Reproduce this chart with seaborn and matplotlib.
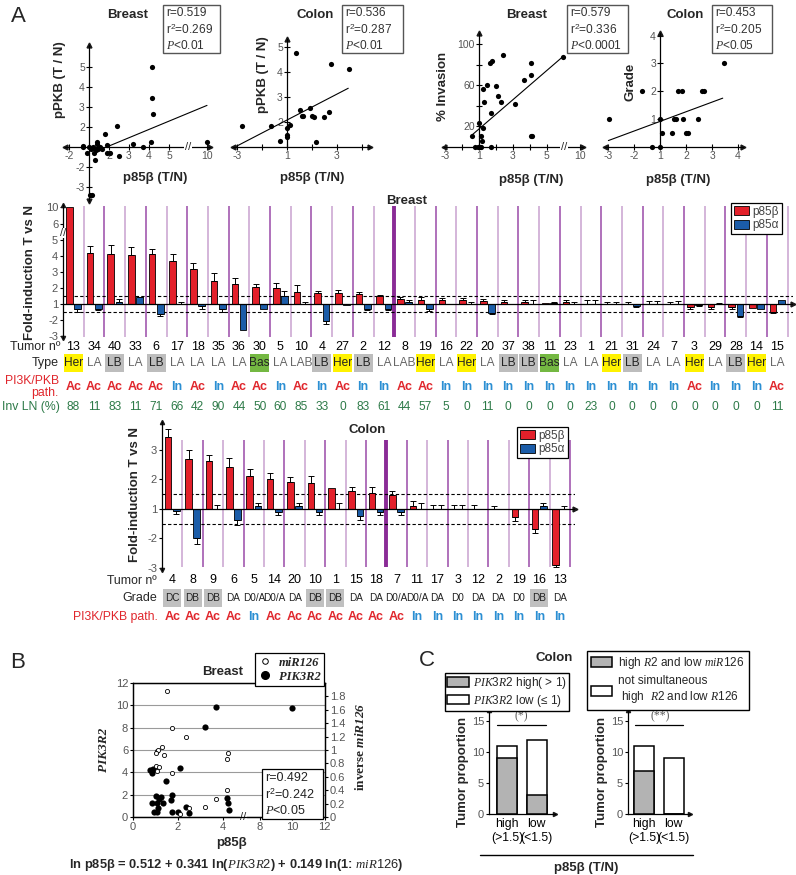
import numpy as np
import pandas as pd
import matplotlib
matplotlib.use("Agg")
import matplotlib.pyplot as plt
from matplotlib.patches import Rectangle
from matplotlib.lines import Line2D
import matplotlib.transforms as mtransforms
import seaborn as sns

# ======================= DATA =======================
# --- Panel A, top scatter plots (fold-change values T/N) ---
bpkb_x = [4.13, 4.13, 4.2, 2.38, 1.82, 1.38, -1.28, 1.0, 1.22, 1.42, 1.55, 1.88, 3.2, 3.7, 4.1, 10,
          -1.32, 1.1, 1.2, 1.35, 1.45, 1.63, 1.88, -1.08, 1.25, 1.3, 2.05, 2.52, 1.05, 1.15]
bpkb_y = [5.0, 3.47, 2.65, 2.05, 1.65, 1.15, 1.07, 1.0, 1.0, 1.25, 1.0, 1.1, 1.15, 1.0, 1.27, 1.27,
          1.0, -1.1, -1.05, -1.15, -1.1, -1.12, -1.28, -1.28, -1.32, -1.65, -1.32, -1.43, -3.4, -3.4]
bpkb_fit_x = [1.88, 10]
bpkb_fit_y = [1.0, 3.08]

cpkb_x = [1.36, 2.76, 3.49, -2.81, -1.65, -1.28, 1.0, 1.0, 1.0, 1.1, 1.52, 1.59, 1.65, 1.92, 1.99,
          2.08, 2.16, 2.49, 2.69]
cpkb_y = [4.75, 4.32, 4.12, 1.85, 1.85, 1.24, 1.4, 1.5, 1.75, 1.9, 2.48, 2.24, 2.24, 2.55, 2.25,
          2.21, 1.21, 2.21, 2.41]
cpkb_fit_x = [-3.08, 3.45]
cpkb_fit_y = [1.0, 3.35]

binv_x = [-1.41, 1.0, 1.14, 1.2, 1.25, 1.31, 1.27, 1.47, 1.63, 1.78, 1.7, 1.7, 2.02, 2.1, 2.29,
          2.41, 3.14, 3.63, 4.08, 4.08, 4.08, 4.15, 7.5, -1.2, -1.08, 1.04, 1.14]
binv_y = [10.7, 23, 11, 6, 18, 44, 56, 60.5, 82, 84, 33, 0, 59.5, 50, 44,
          90, 42, 65, 82, 70, 11, 11, 88, 0, 0, 0, 0]
binv_fit_x = [-1.35, 7.47]
binv_fit_y = [12.4, 88]

cgr_x = [-2.95, -1.68, 1.0, 1.06, 1.45, 1.54, 1.62, 1.68, 1.83, 1.9, 1.99, 2.09, 2.45, 2.6, 2.69,
         3.44, -1.3, 1.0]
cgr_y = [1, 2, 1, 0.5, 0.5, 1, 1, 2, 2, 1, 0.5, 0.5, 1, 2, 2, 3, 0, 0]
cgr_fit_x = [-2.99, 3.41]
cgr_fit_y = [0.22, 1.75]

stats_pkb_breast = ["r=0.519", "r$^{2}$=0.269", "$P$<0.01"]
stats_pkb_colon = ["r=0.536", "r$^{2}$=0.287", "$P$<0.01"]
stats_inv_breast = ["r=0.579", "r$^{2}$=0.336", "$P$<0.0001"]
stats_grade_colon = ["r=0.453", "r$^{2}$=0.205", "$P$<0.05"]

# --- Panel A, breast fold-induction bars ---
breast_tumors = ['13', '34', '40', '33', '6', '17', '18', '35', '36', '30', '5', '10', '4', '27', '2', '12',
                 '8', '19', '16', '22', '20', '37', '38', '11', '23', '1', '21', '31', '24', '7', '3', '29',
                 '28', '14', '15']
breast_p85b = [10, 4.23, 4.16, 4.1, 4.15, 3.69, 3.19, 2.46, 2.29, 2.08, 2.03, 1.8, 1.71, 1.71, 1.67, 1.5,
               1.32, 1.26, 1.26, 1.26, 1.2, 1.15, 1.15, 1.08, 1.15, 1.0, 1.0, 1.0, 1.0, 1.0, -1.17, -1.17,
               -1.17, -1.2, -1.47]
breast_p85b_err = [0, 0.39, 0.54, 0.45, 0.28, 0.47, 0.39, 0.52, 0.37, 0.22, 0.3, 0.39, 0.1, 0.2, 0.1, 0.09,
                   0.15, 0.2, 0.13, 0.13, 0.15, 0.1, 0.1, 0, 0.1, 0.26, 0.15, 0.15, 0.2, 0.15, 0.1, 0.1,
                   0.15, 0, 0.07]
breast_p85a = [-1.28, -1.28, 1.15, 1.43, -1.6, 1.0, -1.1, -1.28, -2.61, -1.32, 1.54, 1.0, -2.03, -1.06,
               -1.28, -1.3, 1.15, -1.28, 1.03, 1.0, -1.54, 1.0, 1.0, 1.08, 1.0, 1.0, 1.0, -1.1, 1.0, 1.0,
               -1.03, 1.0, -1.7, -1.28, 1.26]
breast_p85a_err = [0.2, 0.05, 0.17, 0.05, 0.15, 0.15, 0.17, 0.2, 0, 0, 0.32, 0.15, 0.2, 0, 0.1, 0.05,
                   0.1, 0.15, 0, 0.15, 0.06, 0, 0.25, 0.06, 0.15, 0.26, 0.15, 0.05, 0.2, 0.2, 0.05, 0.08,
                   0.1, 0, 0]
breast_type = ['Her', 'LA', 'LB', 'LA', 'LB', 'LA', 'LA', 'LA', 'LA', 'Bas', 'LA', 'LAB', 'LB', 'Her', 'LB',
               'LA', 'LAB', 'Her', 'LA', 'Her', 'LA', 'LB', 'LB', 'Bas', 'LA', 'LA', 'Her', 'LB', 'LA', 'LA',
               'Her', 'LA', 'LB', 'Her', 'LA']
breast_path = ['Ac', 'Ac', 'Ac', 'Ac', 'Ac', 'In', 'Ac', 'In', 'Ac', 'Ac', 'In', 'Ac', 'In', 'Ac', 'In', 'In',
               'Ac', 'Ac', 'In', 'In', 'In', 'In', 'In', 'In', 'In', 'In', 'In', 'In', 'In', 'In', 'Ac', 'In',
               'In', 'In', 'Ac']
breast_invln = ['88', '11', '83', '11', '71', '66', '42', '90', '44', '50', '60', '85', '33', '0', '83', '61',
                '44', '57', '5', '0', '11', '0', '0', '0', '0', '23', '0', '0', '0', '0', '0', '0', '0', '0',
                '11']

# --- Panel A, colon fold-induction bars ---
colon_tumors = ['4', '8', '9', '6', '5', '14', '20', '10', '1', '15', '18', '7', '11', '17', '3', '12', '2',
                '19', '16', '13']
colon_p85b = [3.42, 2.69, 2.61, 2.42, 2.09, 2.0, 1.89, 1.87, 1.7, 1.6, 1.52, 1.48, 1.09, 1.0, 1.0, 1.0, 1.0,
              -1.28, -1.67, -2.89]
colon_p85b_err = [0.27, 0.31, 0.2, 0.28, 0.27, 0.2, 0.19, 0.22, 0, 0.12, 0.2, 0.11, 0.16, 0.14, 0.13, 0.14,
                  0.09, 0.14, 0.14, 0.09]
colon_p85a = [-1.06, -2.0, 1.0, -1.39, 1.11, -1.11, 1.1, -1.11, 1.0, -1.26, -1.11, -1.11, 1.0, 1.0, 1.0, 1.0,
              1.0, 1.0, 1.11, 1.0]
colon_p85a_err = [0.11, 0.2, 0.13, 0.17, 0.08, 0.09, 0.09, 0.11, 0.2, 0.11, 0.11, 0.11, 0.19, 0.14, 0.13, 0,
                  0, 0, 0.1, 0.11]
colon_grade = ['DC', 'DB', 'DB', 'DA', 'D0/A', 'D0/A', 'DA', 'DB', 'DB', 'DA', 'DA', 'D0/A', 'D0/A', 'DA',
               'D0', 'DA', 'DA', 'D0', 'DB', 'DA']
colon_path = ['Ac', 'Ac', 'Ac', 'Ac', 'In', 'Ac', 'Ac', 'Ac', 'Ac', 'Ac', 'Ac', 'Ac', 'In', 'In', 'In', 'In',
              'In', 'In', 'In', 'In']

# --- Panel B ---
pik_x = [0.83, 0.93, 1.02, 1.12, 1.17, 1.07, 1.23, 1.35, 1.08, 0.76, 0.83, 0.9, 1.47, 1.67, 1.75, 1.72,
         2.09, 2.01, 2.34, 2.49, 4.19, 4.24, 4.28, 3.69, 3.2, 10]
pik_y = [1.28, 0.47, 1.88, 0.78, 1.58, 1.28, 1.82, 1.28, 0.47, 4.2, 3.9, 4.27, 3.25, 1.52, 1.97, 0.47,
         4.36, 0.47, 0.92, 0.38, 1.67, 1.22, 0.63, 9.82, 8.03, 9.8]
mir_x = [1.5, 1.75, 2.36, 1.05, 1.27, 1.38, 1.12, 1.02, 1.02, 1.17, 1.05, 1.72, 4.24, 4.19, 4.16, 3.69,
         3.2, 2.5, 2.09]
mir_y = [1.88, 1.33, 1.2, 0.98, 1.04, 0.93, 1.0, 0.95, 0.76, 0.74, 0.68, 0.66, 0.96, 0.86, 0.41, 0.27,
         0.15, 0.13, 0.05]
stats_B = ["r=0.492", "r$^{2}$=0.242", "$P$<0.05"]

# --- Panel C ---
c_groups = ['high\n(>1.5)', 'low\n(<1.5)']
c1_total = [11, 12]
c1_high = [9, 3]
c2_total = [11, 9]
c2_high = [7, 0]

# ======================= STYLE =======================
sns.set_theme(style="ticks")
plt.rcParams['font.family'] = ['Liberation Sans', 'DejaVu Sans']
plt.rcParams.update({
    'mathtext.fontset': 'custom',
    'mathtext.rm': 'Liberation Sans',
    'mathtext.it': 'Liberation Serif:italic',
    'mathtext.bf': 'Liberation Serif:italic:bold',
    'axes.edgecolor': 'black',
    'axes.linewidth': 0.9,
    'xtick.color': 'black', 'ytick.color': 'black',
    'xtick.labelcolor': '#555555', 'ytick.labelcolor': '#555555',
})

RED = '#e3202a'
BLUE = '#1b5ca8'
AC_RED = '#e0262c'
IN_BLUE = '#2b8fd3'
GREEN_TXT = '#2d7a48'
LIGHT_V = '#c9a2d0'
DARK_V = '#9a4aa8'
THICK_V = '#8a2b96'
TYPE_BG = {'Her': '#fff200', 'LB': '#bdbdbd', 'Bas': '#74b842'}

W, H = 796, 875
fig = plt.figure(figsize=(W / 100, H / 100), dpi=100)
fig.patch.set_facecolor('white')


def fx(px):
    return px / W


def fy(py):
    return 1 - py / H


def ax_px(l, t, r, b):
    return fig.add_axes([fx(l), fy(b), (r - l) / W, (b - t) / H])


def ftext(px, py, s, **kw):
    kw.setdefault('ha', 'center')
    kw.setdefault('va', 'center')
    return fig.text(fx(px), fy(py), s, **kw)


def fbox(l, t, r, b, ec='black', lw=0.9, fc='white', z=10):
    fig.add_artist(Rectangle((fx(l), fy(b)), (r - l) / W, (b - t) / H, transform=fig.transFigure,
                             facecolor=fc, edgecolor=ec, lw=lw, zorder=z))


def fline(x0, y0, x1, y1, **kw):
    fig.add_artist(Line2D([fx(x0), fx(x1)], [fy(y0), fy(y1)], transform=fig.transFigure, **kw))


def sfold(v):
    v = np.asarray(v, float)
    return np.where(v >= 1, v - 1, np.where(v <= -1, v + 1, 0.0))


def sfold_xbreak(v):
    v = np.asarray(v, float)
    return np.where(v > 5, 4 + (v - 5) * 0.38, sfold(v))


def sfold_ybreak(v):
    v = np.asarray(v, float)
    return np.where(v > 6, 5 + (v - 6) * 0.275, sfold(v))


def xb(v):
    v = np.asarray(v, float)
    return np.where(v >= 8, 5.64 + (v - 8) * 0.72, v)


# ======================= PANEL A: scatter plots =======================
def cross_panel(ax, xlim, ylim, xt, xtl, yt, ytl, ylow, arrow_down=False):
    ax.set_xlim(xlim)
    ax.set_ylim(ylim)
    for s in ('top', 'right'):
        ax.spines[s].set_visible(False)
    ax.spines['left'].set_position(('data', 0))
    ax.spines['bottom'].set_position(('data', 0))
    ax.spines['left'].set_bounds(ylow, ylim[1])
    ax.set_xticks(xt, xtl)
    ax.set_yticks(yt, ytl)
    ax.tick_params(direction='inout', length=4, width=0.8, labelsize=7.5, pad=1)
    ax.set_xlabel('')
    ax.set_ylabel('')
    ax.plot(1, 0, '>', color='k', ms=3.5, transform=ax.get_yaxis_transform(), clip_on=False)
    ax.plot(0, 0, '<', color='k', ms=3.5, transform=ax.get_yaxis_transform(), clip_on=False)
    ax.plot(0, 1, '^', color='k', ms=3.5, transform=ax.get_xaxis_transform(), clip_on=False)
    if arrow_down:
        ax.plot(0, 0, 'v', color='k', ms=3.5, transform=ax.get_xaxis_transform(), clip_on=False)
    ax.patch.set_alpha(0)


def stats_box(l, t, r, b, lines):
    fbox(l, t, r, b, ec='#555555', lw=1.0, fc='white', z=5)
    step = (b - t) / 3.0
    for i, s in enumerate(lines):
        ftext(l + 3, t + step * (i + 0.5) + 0.5, s, ha='left', fontsize=8.6, color='#333333', zorder=6)


dot_kw = dict(color='black', s=14, linewidth=0, zorder=4, legend=False)

# 1. breast pPKB
a1 = ax_px(65, 45, 210, 201)
sns.scatterplot(x=sfold_xbreak(bpkb_x), y=sfold(bpkb_y), ax=a1, **dot_kw)
sns.lineplot(x=sfold_xbreak(bpkb_fit_x), y=sfold(bpkb_fit_y), ax=a1, color='black', lw=0.8)
cross_panel(a1, (-1.2, 6.05), (-2.7, 5.1), [-1, 0, 1, 2, 3, 4, 5.9], ['-2', '', '2', '3', '4', '5', '10'],
            [-2, -1, 1, 2, 3, 4], ['-3', '-2', '2', '3', '4', '5'], -2.7, arrow_down=True)
a1.text(4.95, 0, '//', ha='center', va='center', fontsize=8,
        bbox=dict(fc='white', ec='none', pad=0.3), zorder=5)

# 2. colon pPKB
a2 = ax_px(233, 39, 370, 150)
sns.scatterplot(x=sfold(cpkb_x), y=sfold(cpkb_y), ax=a2, **dot_kw)
sns.lineplot(x=sfold(cpkb_fit_x), y=sfold(cpkb_fit_y), ax=a2, color='black', lw=0.8)
cross_panel(a2, (-2.16, 3.32), (-0.12, 4.32), [-2, -1, 0, 1, 2, 3], ['-3', '', '1', '', '3', ''],
            [1, 2, 3, 4], ['2', '3', '4', '5'], 0)

# 3. breast % invasion
a3 = ax_px(444, 33, 583, 150)
sns.scatterplot(x=sfold_xbreak(binv_x), y=binv_y, ax=a3, **dot_kw)
sns.lineplot(x=sfold_xbreak(binv_fit_x), y=binv_fit_y, ax=a3, color='black', lw=0.8)
cross_panel(a3, (-2.05, 6.12), (-3, 111), [-2, -1, 0, 1, 2, 3, 4, 5.94],
            ['-3', '', '1', '', '3', '', '5', '10'], [20, 40, 60, 80, 100], ['20', '', '60', '', '100'], 0)
a3.text(5.0, 0, '//', ha='center', va='center', fontsize=8,
        bbox=dict(fc='white', ec='none', pad=0.3), zorder=5)

# 4. colon grade
a4 = ax_px(605, 33, 743, 150)
sns.scatterplot(x=sfold(cgr_x), y=cgr_y, ax=a4, **dot_kw)
sns.lineplot(x=sfold(cgr_fit_x), y=cgr_fit_y, ax=a4, color='black', lw=0.8)
cross_panel(a4, (-2.12, 3.19), (-0.12, 4.1), [-2, -1, 0, 1, 2, 3], ['-3', '-2', '1', '2', '3', '4'],
            [1, 2, 3, 4], ['1', '2', '3', '4'], 0)

ftext(18, 17, 'A', fontsize=16)
for x, t in ((128, 'Breast'), (315, 'Colon'), (527, 'Breast'), (685, 'Colon')):
    ftext(x, 15, t, fontsize=9.5, fontweight='bold')
stats_box(163, 5, 220, 53, stats_pkb_breast)
stats_box(342, 5, 403, 53, stats_pkb_colon)
stats_box(567, 5, 628, 53, stats_inv_breast)
stats_box(712, 5, 772, 53, stats_grade_colon)
ftext(60, 80, 'pPKB (T / N)', rotation=90, fontsize=9.5, fontweight='bold')
ftext(263, 75, 'pPKB (T / N)', rotation=90, fontsize=9.5, fontweight='bold')
ftext(443, 86, '% Invasion', rotation=90, fontsize=9.5, fontweight='bold')
ftext(630, 82, 'Grade', rotation=90, fontsize=9.5, fontweight='bold')
for x, y in ((155, 178), (312, 178), (531, 180), (678, 180)):
    ftext(x, y, 'p85β (T/N)', fontsize=9.5, fontweight='bold')


# ======================= PANEL A: fold-induction bars =======================
def fold_panel(ax, tumors, beta, beta_err, alpha, alpha_err, yfun, ylim, thick_after, vspan):
    n = len(tumors)
    df = pd.DataFrame({'tumor': tumors * 2,
                       'gene': ['p85β'] * n + ['p85α'] * n,
                       'val': np.concatenate([yfun(beta), yfun(alpha)])})
    sns.barplot(data=df, x='tumor', y='val', hue='gene', order=tumors, hue_order=['p85β', 'p85α'],
                palette={'p85β': RED, 'p85α': BLUE}, width=0.8, gap=0.2, errorbar=None,
                edgecolor='black', linewidth=0.6, saturation=1, legend=False, ax=ax, zorder=3)
    for vals, errs, off in ((beta, beta_err, -0.2), (alpha, alpha_err, 0.2)):
        y = yfun(vals)
        e = np.asarray(errs, float)
        m = e > 0
        up = np.where(y >= 0, e, 0)
        lo = np.where(y < 0, e, 0)
        ax.errorbar((np.arange(n) + off)[m], y[m], yerr=[lo[m], up[m]], fmt='none', ecolor='black',
                    elinewidth=0.7, capsize=2, capthick=0.7, zorder=4)
    xs = np.arange(n) + 0.5
    cols = [LIGHT_V if i % 2 == 0 else DARK_V for i in range(n)]
    ax.vlines(xs, vspan[0], vspan[1], colors=cols, lw=1.1, zorder=1)
    ax.vlines(thick_after + 0.5, vspan[0], vspan[1], colors=THICK_V, lw=2.8, zorder=1)
    ax.axhline(0, color='black', lw=0.9, zorder=5)
    for yv in (0.5, -0.5):
        ax.axhline(yv, color='black', lw=0.8, ls=(0, (3, 2)), zorder=2)
    ax.set_xlim(-0.5, n - 0.25)
    ax.set_ylim(ylim)
    for s in ('top', 'right', 'bottom'):
        ax.spines[s].set_visible(False)
    ax.set_xticks([])
    ax.set_xlabel('')
    ax.set_ylabel('')
    ax.tick_params(axis='y', direction='out', length=2.5, width=0.8, labelsize=8, pad=1)
    ax.plot(1, 0, '>', color='k', ms=3.5, transform=ax.get_yaxis_transform(), clip_on=False)
    ax.plot(-0.5, 1, '^', color='k', ms=3, transform=ax.get_xaxis_transform(), clip_on=False)
    ax.plot(-0.5, 0, 'v', color='k', ms=3, transform=ax.get_xaxis_transform(), clip_on=False)
    ax.patch.set_alpha(0)


def row(ax, labels, py, colors, size=8.6, weight='normal'):
    tr = mtransforms.blended_transform_factory(ax.transData, fig.transFigure)
    for i, (lab, c) in enumerate(zip(labels, colors)):
        ax.text(i, fy(py), lab, transform=tr, ha='center', va='center', color=c, fontsize=size,
                fontweight=weight, clip_on=False, zorder=6)


def row_boxes(ax, labels, py, colors, hpx=18, w=0.92):
    tr = mtransforms.blended_transform_factory(ax.transData, fig.transFigure)
    for i, lab in enumerate(labels):
        if lab in colors:
            ax.add_patch(Rectangle((i - w / 2, fy(py + hpx / 2)), w, hpx / H, transform=tr,
                                   facecolor=colors[lab], edgecolor='none', clip_on=False, zorder=0))


def bar_legend(l, t):
    hs = [Rectangle((0, 0), 1, 1, fc=RED, ec='black', lw=0.6),
          Rectangle((0, 0), 1, 1, fc=BLUE, ec='black', lw=0.6)]
    lg = fig.legend(hs, ['p85β', 'p85α'], loc='upper left', bbox_to_anchor=(fx(l), fy(t)),
                    fontsize=8.5, frameon=True, fancybox=False, edgecolor='black', framealpha=1,
                    borderpad=0.25, labelspacing=0.1, handlelength=1.3, handleheight=0.8,
                    handletextpad=0.25, borderaxespad=0)
    lg.get_frame().set_linewidth(0.9)
    for t_ in lg.get_texts():
        t_.set_color('#444444')


# breast bars
ab = ax_px(63, 205, 792.7, 338)
fold_panel(ab, breast_tumors, breast_p85b, breast_p85b_err, breast_p85a, breast_p85a_err,
           sfold_ybreak, (-2.1, 6.2), 15, (-2.05, 6.15))
bt = [10, 6, 5, 4, 3, 2, 1, -2, -3]
ab.set_yticks(sfold_ybreak(bt), [str(v) for v in bt])
ab.text(-0.5, 4.45, '//', ha='center', va='center', fontsize=8, rotation=0,
        bbox=dict(fc='white', ec='none', pad=0.2), zorder=6, clip_on=False)
nb = len(breast_tumors)
row(ab, breast_tumors, 347, ['black'] * nb, size=9)
row_boxes(ab, breast_type, 363, TYPE_BG)
row(ab, breast_type, 363, ['#222222' if t in TYPE_BG else '#666666' for t in breast_type], size=8.6)
row(ab, breast_path, 387, [AC_RED if p == 'Ac' else IN_BLUE for p in breast_path], size=9, weight='bold')
row(ab, breast_invln, 407, [GREEN_TXT] * nb, size=8.6)
ftext(60, 347, 'Tumor nº', ha='right', fontsize=9)
ftext(59, 363, 'Type', ha='right', fontsize=9)
ftext(59, 387, 'PI3K/PKB\npath.', ha='right', fontsize=8.8, color=AC_RED, linespacing=0.95)
ftext(60, 407, 'Inv LN (%)', ha='right', fontsize=8.8, color=GREEN_TXT)
ftext(407, 201, 'Breast', fontsize=9.5, fontweight='bold')
ftext(30, 273, 'Fold-induction T vs N', rotation=90, fontsize=9.5, fontweight='bold')
bar_legend(731, 203)

# colon bars
ac = ax_px(162, 422, 575, 569.5)
fold_panel(ac, colon_tumors, colon_p85b, colon_p85b_err, colon_p85a, colon_p85a_err,
           sfold, (-2.05, 2.93), 10, (-1.95, 2.33))
ct = [3, 2, 1, -2, -3]
ac.set_yticks(sfold(ct), [str(v) for v in ct])
nc = len(colon_tumors)
row(ac, colon_tumors, 580, ['black'] * nc, size=9)
row_boxes(ac, colon_grade, 598, {'DC': '#c0c0c0', 'DB': '#c0c0c0'}, hpx=18, w=0.88)
row(ac, colon_grade, 598, ['#222222'] * nc, size=7.2)
row(ac, colon_path, 617, [AC_RED if p == 'Ac' else IN_BLUE for p in colon_path], size=9, weight='bold')
ftext(157, 580.5, 'Tumor nº', ha='right', fontsize=8.8)
ftext(157, 598, 'Grade', ha='right', fontsize=9)
ftext(158, 617, 'PI3K/PKB path.', ha='right', fontsize=8.8, color=AC_RED)
ftext(367, 430, 'Colon', fontsize=9.5, fontweight='bold')
ftext(135, 494, 'Fold-induction T vs N', rotation=90, fontsize=9.5, fontweight='bold')
bar_legend(517, 427)

# ======================= PANEL B =======================
axB = ax_px(133, 683, 325, 817)
axB.set_xlim(0, 8.53)
axB.set_ylim(0, 12)
axB.set_yticks(range(0, 13, 2))
axB.grid(axis='y', color='#9a9a9a', lw=0.8)
axB.set_axisbelow(True)
sns.scatterplot(x=xb(pik_x), y=pik_y, ax=axB, color='black', s=20, linewidth=0, zorder=4, legend=False)
axB2 = axB.twinx()
sns.scatterplot(x=xb(mir_x), y=mir_y, ax=axB2, facecolor='white', edgecolor='black', s=9,
                linewidth=0.6, zorder=4, legend=False)
axB2.set_ylim(0, 2)
axB2.set_yticks(np.round(np.arange(0, 1.81, 0.2), 1), ['0', '0.2', '0.4', '0.6', '0.8', '1', '1.2', '1.4',
                                                        '1.6', '1.8'])
axB.set_xticks(xb([0, 2, 4, 8, 10, 12]), ['0', '2', '4', '8', '10', '12'])
for a in (axB, axB2):
    a.set_xlabel('')
    a.set_ylabel('')
    a.tick_params(direction='out', length=2.5, width=0.8, labelsize=8, pad=1)
    for s in a.spines.values():
        s.set_linewidth(0.9)
axB.text(4.9, 0, '//', ha='center', va='center', fontsize=8,
         bbox=dict(fc='white', ec='none', pad=0.2), zorder=6, clip_on=False)
ftext(18, 663, 'B', fontsize=16)
ftext(223, 672, 'Breast', fontsize=9.5, fontweight='bold')
lgB = fig.legend([Line2D([], [], marker='o', ls='', mfc='white', mec='black', ms=4, mew=0.7),
                  Line2D([], [], marker='o', ls='', color='black', ms=5.5)],
                 ['miR126', 'PIK3R2'], loc='upper left', bbox_to_anchor=(fx(255), fy(653)),
                 prop={'family': 'Liberation Serif', 'style': 'italic', 'weight': 'bold', 'size': 9},
                 frameon=True, fancybox=False, edgecolor='black', framealpha=1, borderpad=0.3,
                 labelspacing=0.15, handlelength=1.0, handletextpad=0.6, borderaxespad=0)
lgB.get_frame().set_linewidth(0.9)
fbox(262, 769, 323, 819, ec='black', lw=0.9, fc='white', z=8)
for i, s in enumerate(stats_B):
    ftext(265, 778 + 16.5 * i, s, ha='left', fontsize=9, color='#222222', zorder=9)
ftext(104, 750, 'PIK3R2', rotation=90, fontsize=9.5, fontweight='bold', style='italic',
      family='Liberation Serif')
ftext(360, 747, 'inverse $\\mathbf{miR126}$', rotation=90, fontsize=9.5, fontweight='bold',
      family='Liberation Serif')
ftext(232, 843, 'p85β', fontsize=9.5, fontweight='bold')
ftext(236, 865, 'ln p85β = 0.512 + 0.341 ln($\\mathit{PIK3R2}$) + 0.149 ln(1: $\\mathit{miR126}$)',
      fontsize=9.3, fontweight='bold')


# ======================= PANEL C =======================
def c_panel(ax, total, high, xlim):
    sns.barplot(x=c_groups, y=total, ax=ax, color='white', edgecolor='black', linewidth=1.1,
                width=0.68, saturation=1, zorder=2)
    sns.barplot(x=c_groups, y=high, ax=ax, color='#b3b3b3', edgecolor='black', linewidth=1.1,
                width=0.68, saturation=1, zorder=3)
    ax.set_xlim(xlim)
    ax.set_ylim(0, 16.8)
    ax.set_yticks([0, 5, 10, 15])
    for s in ('top', 'right'):
        ax.spines[s].set_visible(False)
    ax.tick_params(axis='y', direction='out', length=2.5, width=0.8, labelsize=8, pad=1)
    ax.tick_params(axis='x', length=0, labelsize=8.8, pad=3, labelcolor='black')
    ax.set_xlabel('')
    ax.set_ylabel('')
    ax.plot(1, 0, '>', color='k', ms=3, transform=ax.transAxes, clip_on=False)
    ax.plot(0, 1, '^', color='k', ms=3, transform=ax.transAxes, clip_on=False)
    ax.patch.set_alpha(0)


axC1 = ax_px(489, 710, 555, 814)
c_panel(axC1, c1_total, c1_high, (-0.61, 1.62))
axC2 = ax_px(628, 710, 690, 814)
c_panel(axC2, c2_total, c2_high, (-0.54, 1.55))
fline(497, 725, 546, 725, color='black', lw=0.9)
fline(635, 725, 683, 725, color='black', lw=0.9)
ftext(521, 716, '(*)', fontsize=8.5, color='#555555', family='Liberation Serif')
ftext(660, 716, '(**)', fontsize=8.5, color='#555555', family='Liberation Serif')
ftext(463, 772, 'Tumor proportion', rotation=90, fontsize=9.5, fontweight='bold')
ftext(602, 772, 'Tumor proportion', rotation=90, fontsize=9.5, fontweight='bold')
fline(480, 855, 693, 855, color='black', lw=1.0)
ftext(586, 868, 'p85β (T/N)', fontsize=9.5, fontweight='bold')
ftext(427, 660, 'C', fontsize=16)
ftext(554, 658, 'Colon', fontsize=9.5, fontweight='bold')

gray_h = Rectangle((0, 0), 1, 1, fc='#b3b3b3', ec='black', lw=1.1)
white_h = Rectangle((0, 0), 1, 1, fc='white', ec='black', lw=1.1)
lg1 = fig.legend([gray_h, white_h], ['$\\mathit{PIK3R2}$ high( > 1)', '$\\mathit{PIK3R2}$ low (≤ 1)'],
                 loc='upper left', bbox_to_anchor=(fx(445), fy(673)), fontsize=8.5, frameon=True,
                 fancybox=False, edgecolor='black', framealpha=1, borderpad=0.2, labelspacing=0.1,
                 handlelength=1.8, handleheight=0.9, handletextpad=0.4, borderaxespad=0)
lg1.get_frame().set_linewidth(1.0)
lg2 = fig.legend([Rectangle((0, 0), 1, 1, fc='#b3b3b3', ec='black', lw=1.1),
                  Rectangle((0, 0), 1, 1, fc='white', ec='black', lw=1.1)],
                 ['high $\\mathit{R2}$ and low $\\mathit{miR126}$',
                  'not simultaneous\n high  $\\mathit{R2}$ and low $\\mathit{R126}$'],
                 loc='upper left', bbox_to_anchor=(fx(587), fy(651)), fontsize=8.5, frameon=True,
                 fancybox=False, edgecolor='black', framealpha=1, borderpad=0.35, labelspacing=0.35,
                 handlelength=1.8, handleheight=1.0, handletextpad=0.5, borderaxespad=0)
lg2.get_frame().set_linewidth(1.0)

fig.savefig('out.png', dpi=100, facecolor='white')
